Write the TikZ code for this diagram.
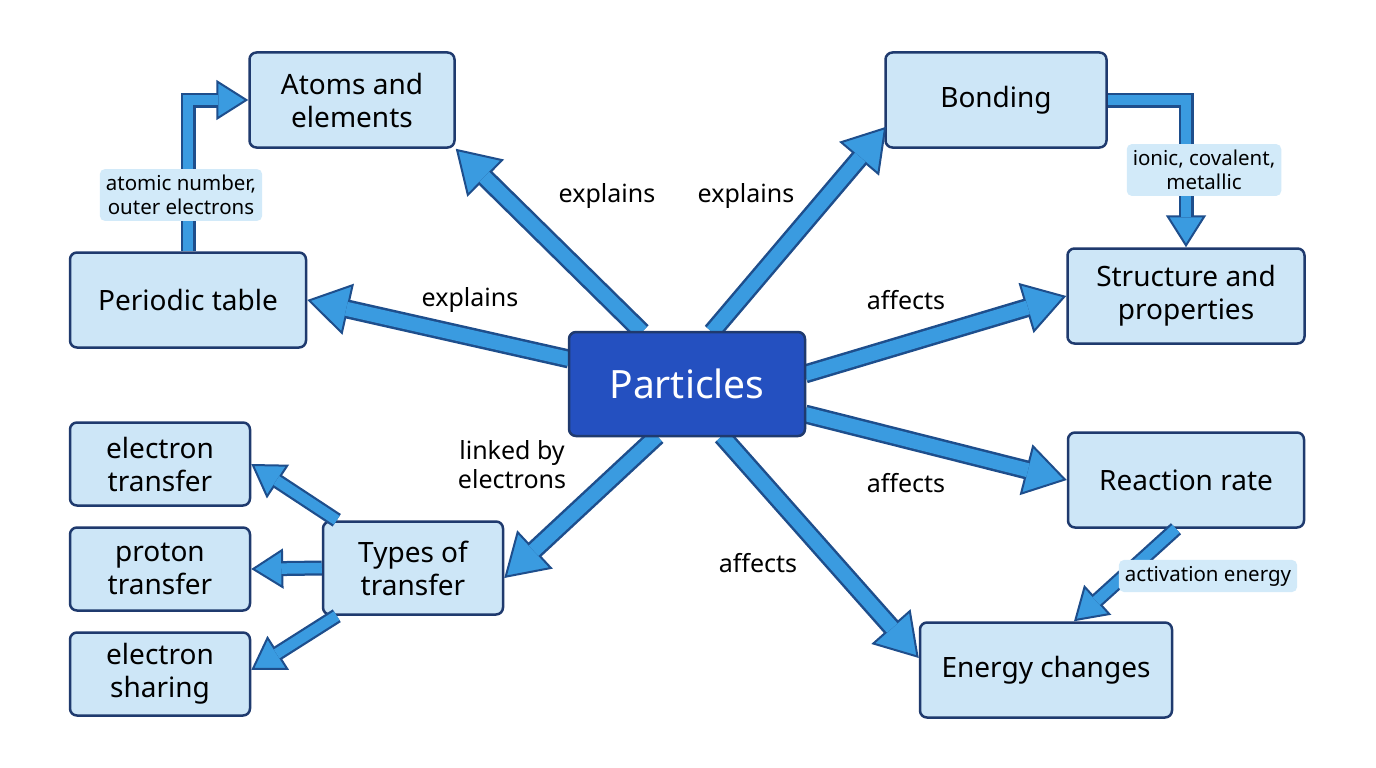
\documentclass[tikz,border=0pt]{standalone}
\usepackage{fontspec}
\setmainfont{Noto Sans}
\usetikzlibrary{arrows.meta,calc}
\definecolor{lt}{HTML}{CDE6F7}
\definecolor{bd}{HTML}{1F3A6E}
\definecolor{af}{HTML}{3A9BE0}
\definecolor{ad}{HTML}{1E4E8C}
\definecolor{pf}{HTML}{2450C0}
\definecolor{lb}{HTML}{D2EAF9}
\newcommand\fatarrow[1]{%
 \draw[ad,line width=19pt,-{Triangle[width=52pt,length=42pt,fill=af,line width=2pt]}] #1;
 \draw[af,line width=14pt,shorten >=40pt] #1;}
\newcommand\midarrow[1]{%
 \draw[ad,line width=15pt,-{Triangle[width=40pt,length=32pt,fill=af,line width=2pt]}] #1;
 \draw[af,line width=10.5pt,shorten >=30pt] #1;}
\begin{document}
\begin{tikzpicture}[x=1pt,y=-1pt,
 box/.style={draw=bd,line width=2.5pt,fill=lt,rounded corners=7pt,align=center,font=\fontsize{28}{33}\selectfont,text=black},
 lab/.style={font=\fontsize{25}{29}\selectfont,align=center},
 tag/.style={fill=lb,rounded corners=5pt,align=center,font=\fontsize{20.5}{24}\selectfont,inner sep=6pt}]
\useasboundingbox[fill=white] (0,0) rectangle (1376,768);
\coordinate (Pc) at (687,384);
\node[box,minimum width=205pt,minimum height=95pt] (A) at (352,100) {Atoms and\\elements};
\node[box,minimum width=221pt,minimum height=95pt] (B) at (996,100) {Bonding};
\node[box,minimum width=236pt,minimum height=95pt] (PT) at (188,300) {Periodic table};
\node[box,minimum width=237pt,minimum height=95pt] (S) at (1186,296) {Structure and\\properties};
\node[box,minimum width=236pt,minimum height=95pt] (R) at (1186,480) {Reaction rate};
\node[box,minimum width=252pt,minimum height=95pt] (E) at (1046,670) {Energy changes};
\node[box,minimum width=180pt,minimum height=93pt] (T) at (413,568) {Types of\\transfer};
\node[box,minimum width=180pt,minimum height=83pt] (ET) at (160,464) {electron\\transfer};
\node[box,minimum width=180pt,minimum height=83pt] (PR) at (160,569) {proton\\transfer};
\node[box,minimum width=180pt,minimum height=83pt] (ES) at (160,674) {electron\\sharing};
\fatarrow{($(Pc)+(-45,-52)$) -- (A.south east)}
\fatarrow{($(Pc)+(25,-52)$) -- ($(B.south west)+(2,-22)$)}
\fatarrow{($(Pc)+(-118,-25)$) -- (PT.east)}
\fatarrow{($(Pc)+(118,-10)$) -- (S.west)}
\fatarrow{($(Pc)+(118,30)$) -- (R.west)}
\fatarrow{($(Pc)+(35,52)$) -- ($(E.west)+(0,-12)$)}
\fatarrow{($(Pc)+(-30,52)$) -- ($(T.east)+(0,10)$)}
\node[box,minimum width=236pt,minimum height=104pt,fill=pf,text=white,font=\fontsize{39}{45}\selectfont] (P) at (Pc) {Particles};
\midarrow{(PT.north) |- (A.west)}
\midarrow{(B.east) -| (S.north)}
\midarrow{($(R.south)+(-10,0)$) -- ($(E.north)+(28,0)$)}
\midarrow{($(T.north west)+(15,0)$) -- (ET.east)}
\midarrow{(T.west) -- (PR.east)}
\midarrow{($(T.south west)+(15,0)$) -- ($(ES.east)+(0,-4)$)}
\node[tag] (t1) at (181,195) {atomic number,\\outer electrons};
\node[tag] (t2) at (1204,170) {ionic, covalent,\\metallic};
\node[tag] (t3) at (1208,576) {activation energy};
\node[lab] at (607,196) {explains};
\node[lab] at (746,196) {explains};
\node[lab] at (470,300) {explains};
\node[lab] at (906,300) {affects};
\node[lab] at (906,483) {affects};
\node[lab] at (758,563) {affects};
\node[lab] at (512,465) {linked by\\electrons};
\end{tikzpicture}
\end{document}
